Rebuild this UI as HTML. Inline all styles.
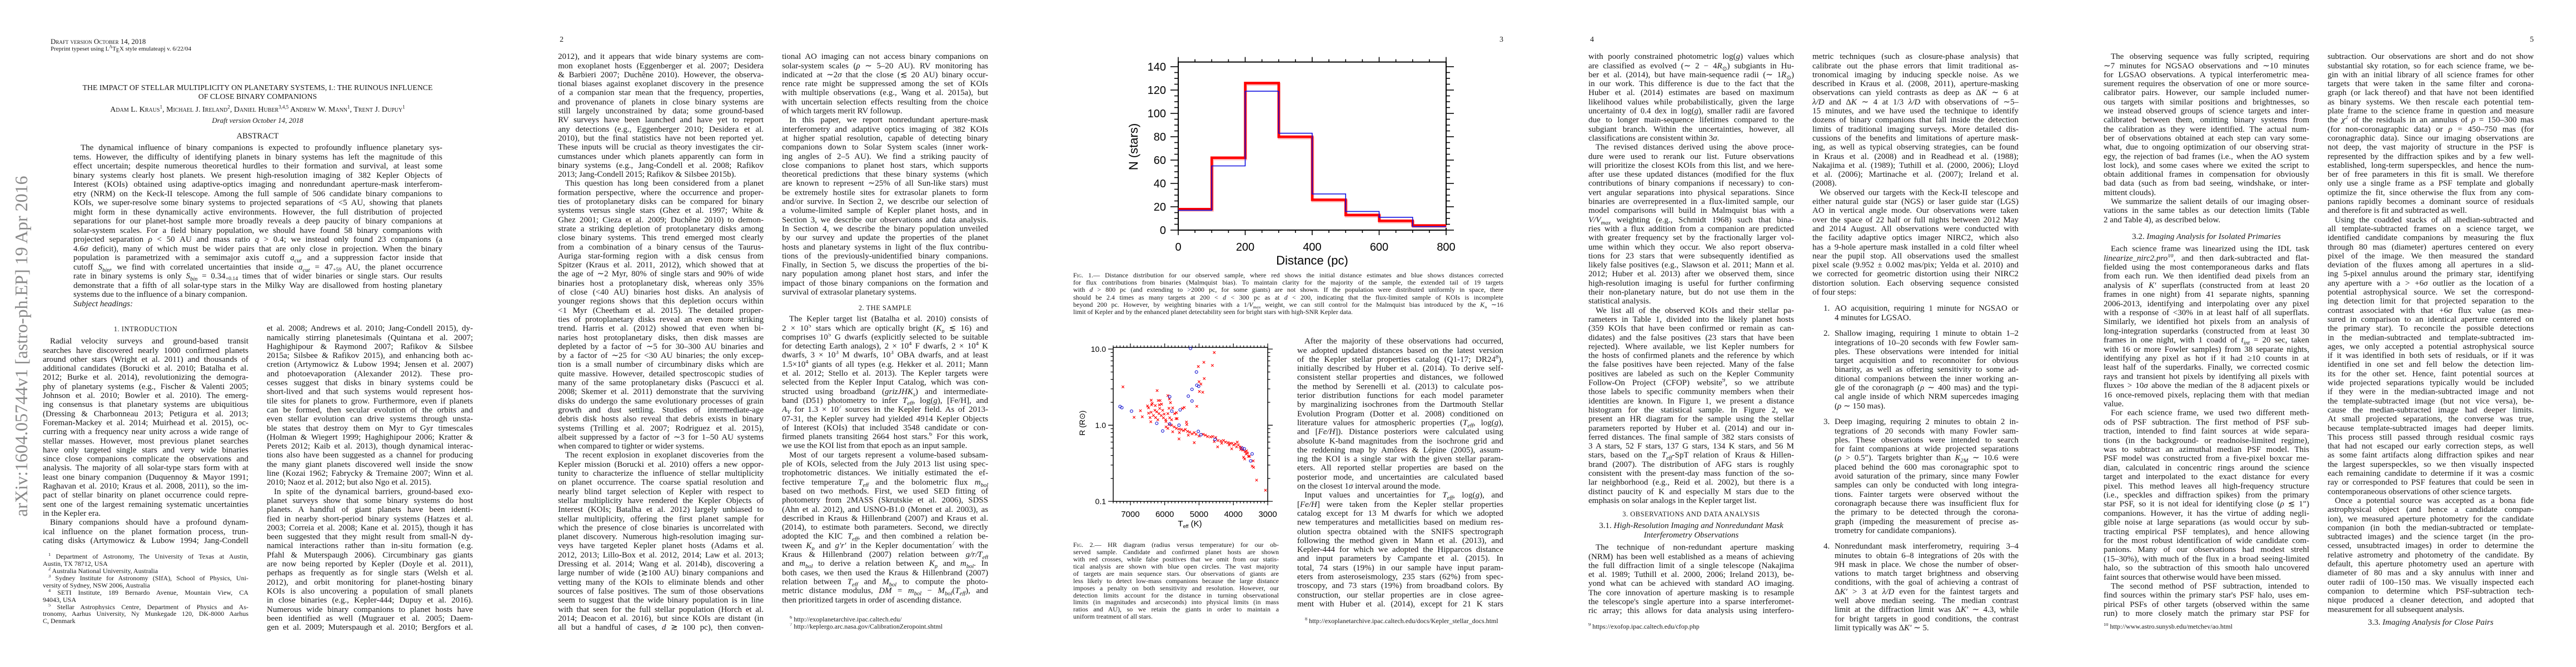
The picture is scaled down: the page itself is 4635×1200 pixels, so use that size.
<!DOCTYPE html>
<html><head><meta charset="utf-8">
<style>
html,body{margin:0;padding:0;background:#fff;}
body{width:4635px;height:1200px;position:relative;overflow:hidden;font-family:"Liberation Serif",serif;color:#161616;}
.page{position:absolute;top:0;width:927px;height:1200px;background:#fff;overflow:hidden;}
.ln{position:absolute;white-space:normal;overflow:hidden;text-align:justify;}
.abs{position:absolute;white-space:nowrap;}
.sc{font-variant:small-caps;}
sup,sub{line-height:0;font-size:0.7em;}
.ss{display:inline-flex;flex-direction:column;vertical-align:-0.3em;font-size:0.65em;line-height:0.95em;}
.ss sup,.ss sub{font-size:1em;vertical-align:baseline;line-height:0.95em;}
svg text{font-family:"Liberation Sans",sans-serif;}
</style></head><body>

<div class="page" id="p0" style="left:0px">
  <div class="abs" style="left:-332px;top:603px;width:740px;text-align:center;font-size:32px;color:#8a8a8a;transform:rotate(-90deg);transform-origin:center;line-height:40px;">arXiv:1604.05744v1  [astro-ph.EP]  19 Apr 2016</div>
  <div class="abs sc" style="left:91px;top:67px;font-size:13px;">Draft version October 14, 2018</div>
  <div class="abs" style="left:91px;top:82px;font-size:11px;">Preprint typeset using L<sup style="font-size:8px">A</sup>T<sub style="font-size:10px">E</sub>X style emulateapj v. 6/22/04</div>
  <div class="abs" style="left:60px;width:807px;top:150px;text-align:center;font-size:13.8px;line-height:16px;">THE IMPACT OF STELLAR MULTIPLICITY ON PLANETARY SYSTEMS, I.: THE RUINOUS INFLUENCE<br>OF CLOSE BINARY COMPANIONS</div>
  <div class="abs sc" style="left:60px;width:807px;top:190px;text-align:center;font-size:14px;">Adam L. Kraus<sup style="font-size:9px">1</sup>, Michael J. Ireland<sup style="font-size:9px">2</sup>, Daniel Huber<sup style="font-size:9px">3,4,5</sup> Andrew W. Mann<sup style="font-size:9px">1</sup>, Trent J. Dupuy<sup style="font-size:9px">1</sup></div>
  <div class="abs" style="left:60px;width:807px;top:209px;text-align:center;font-size:13px;font-style:italic;">Draft version October 14, 2018</div>
  <div class="abs" style="left:60px;width:807px;top:237px;text-align:center;font-size:14.5px;">ABSTRACT</div>
  <div class="abs" style="left:132px;top:539px;font-size:15px;font-style:italic;">Subject headings:</div>
  <div class="abs" style="left:77px;width:370px;top:585px;text-align:center;font-size:12.5px;letter-spacing:0.5px;">1. INTRODUCTION</div>
</div>

<div class="page" id="p1" style="left:927px">
  <div class="abs" style="left:80px;top:64px;font-size:14px;">2</div>
  <div class="abs" style="left:480px;width:371px;top:547px;text-align:center;font-size:12.5px;letter-spacing:0.5px;">2. THE SAMPLE</div>
</div>

<div class="page" id="p2" style="left:1854px">
  <div class="abs" style="left:844px;top:64px;font-size:14px;">3</div>
  <svg id="fig1" width="927" height="480" style="position:absolute;left:0;top:0;"></svg>
  <svg id="fig2" width="927" height="980" style="position:absolute;left:0;top:0;"></svg>
</div>

<div class="page" id="p3" style="left:2781px">
  <div class="abs" style="left:80px;top:64px;font-size:14px;">4</div>
  <div class="abs" style="left:77px;width:370px;top:918px;text-align:center;font-size:12.5px;letter-spacing:0.5px;">3. OBSERVATIONS AND DATA ANALYSIS</div>
  <div class="abs" style="left:77px;width:370px;top:938px;text-align:center;font-size:15px;line-height:17px;"><span>3.1. </span><i>High-Resolution Imaging and Nonredundant Mask<br>Interferometry Observations</i></div>
</div>

<div class="page" id="p4" style="left:3708px">
  <div class="abs" style="left:844px;top:64px;font-size:14px;">5</div>
  <div class="abs" style="left:77px;width:370px;top:418px;text-align:center;font-size:15px;">3.2. <i>Imaging Analysis for Isolated Primaries</i></div>
  <div class="abs" style="left:480px;width:371px;top:1112px;text-align:center;font-size:15px;">3.3. <i>Imaging Analysis for Close Pairs</i></div>
</div>

<script>
function addLines(pageId, x, cy, w, lh, fs, indent, text, name) {
  const page = document.getElementById(pageId);
  const lines = text.replace(/^\n+|\n+$/g, '').split('\n');
  let indentNext = false;
  lines.forEach(function (raw, i) {
    let s = raw;
    let ind = indentNext;
    if (s.charAt(0) === '^') { ind = true; s = s.slice(1); }
    let end = false;
    if (s.charAt(s.length - 1) === '|') { end = true; s = s.slice(0, -1); }
    indentNext = end;
    const d = document.createElement('div');
    d.className = 'ln';
    
    
    const off = ind ? indent : 0;
    d.style.left = (x + off) + 'px';
    d.style.width = (w - off) + 'px';
    d.style.top = (cy + i * lh - lh * 0.6) + 'px';
    d.style.height = lh + 'px';
    d.style.lineHeight = lh + 'px';
    d.style.fontSize = fs + 'px';
    d.style.textAlignLast = end ? 'left' : 'justify';
    d.innerHTML = s;
    page.appendChild(d);
  });
}

addLines('p0', 132, 268, 664, 16.5, 15, 13, `
^The dynamical influence of binary companions is expected to profoundly influence planetary sys-
tems. However, the difficulty of identifying planets in binary systems has left the magnitude of this
effect uncertain; despite numerous theoretical hurdles to their formation and survival, at least some
binary systems clearly host planets. We present high-resolution imaging of 382 Kepler Objects of
Interest (KOIs) obtained using adaptive-optics imaging and nonredundant aperture-mask interferom-
etry (NRM) on the Keck-II telescope. Among the full sample of 506 candidate binary companions to
KOIs, we super-resolve some binary systems to projected separations of &lt;5 AU, showing that planets
might form in these dynamically active environments. However, the full distribution of projected
separations for our planet-host sample more broadly reveals a deep paucity of binary companions at
solar-system scales. For a field binary population, we should have found 58 binary companions with
projected separation <i>ρ</i> &lt; 50 AU and mass ratio <i>q</i> &gt; 0.4; we instead only found 23 companions (a
4.6<i>σ</i> deficit), many of which must be wider pairs that are only close in projection. When the binary
population is parametrized with a semimajor axis cutoff <i>a<sub>cut</sub></i> and a suppression factor inside that
cutoff <i>S<sub>bin</sub></i>, we find with correlated uncertainties that inside <i>a<sub>cut</sub></i> = 47<span class="ss"><sup>+59</sup><sub>−23</sub></span> AU, the planet occurrence
rate in binary systems is only <i>S<sub>bin</sub></i> = 0.34<span class="ss"><sup>+0.14</sup><sub>−0.15</sub></span> times that of wider binaries or single stars. Our results
demonstrate that a fifth of all solar-type stars in the Milky Way are disallowed from hosting planetary
systems due to the influence of a binary companion.|
`, 'abstract-line');

addLines('p0', 77, 616, 370, 16.3, 15, 13, `
^Radial velocity surveys and ground-based transit
searches have discovered nearly 1000 confirmed planets
around other stars (Wright et al. 2011) and thousands of
additional candidates (Borucki et al. 2010; Batalha et al.
2012; Burke et al. 2014), revolutionizing the demogra-
phy of planetary systems (e.g., Fischer &amp; Valenti 2005;
Johnson et al. 2010; Bowler et al. 2010). The emerg-
ing consensus is that planetary systems are ubiquitious
(Dressing &amp; Charbonneau 2013; Petigura et al. 2013;
Foreman-Mackey et al. 2014; Muirhead et al. 2015), oc-
curring with a frequency near unity across a wide range of
stellar masses. However, most previous planet searches
have only targeted single stars and very wide binaries
since close companions complicate the observations and
analysis. The majority of all solar-type stars form with at
least one binary companion (Duquennoy &amp; Mayor 1991;
Raghavan et al. 2010; Kraus et al. 2008, 2011), so the im-
pact of stellar binarity on planet occurrence could repre-
sent one of the largest remaining systematic uncertainties
in the Kepler era.|
Binary companions should have a profound dynam-
ical influence on the planet formation process, trun-
cating disks (Artymowicz &amp; Lubow 1994; Jang-Condell
`, 'intro-line');

addLines('p0', 77, 1003, 370, 12.9, 12, 10, `
^<sup>1</sup> Department of Astronomy, The University of Texas at Austin,
Austin, TX 78712, USA|
<sup>2</sup> Australia National University, Australia|
<sup>3</sup> Sydney Institute for Astronomy (SIfA), School of Physics, Uni-
versity of Sydney, NSW 2006, Australia|
<sup>4</sup> SETI Institute, 189 Bernardo Avenue, Mountain View, CA
94043, USA|
<sup>5</sup> Stellar Astrophysics Centre, Department of Physics and As-
tronomy, Aarhus University, Ny Munkegade 120, DK-8000 Aarhus
C, Denmark|
`, 'affiliation-footnote');

addLines('p0', 480, 593, 371, 16.3, 15, 13, `
et al. 2008; Andrews et al. 2010; Jang-Condell 2015), dy-
namically stirring planetesimals (Quintana et al. 2007;
Haghighipour &amp; Raymond 2007; Rafikov &amp; Silsbee
2015a; Silsbee &amp; Rafikov 2015), and enhancing both ac-
cretion (Artymowicz &amp; Lubow 1994; Jensen et al. 2007)
and photoevaporation (Alexander 2012). These pro-
cesses suggest that disks in binary systems could be
short-lived and that such systems would represent hos-
tile sites for planets to grow. Furthermore, even if planets
can be formed, then secular evolution of the orbits and
even stellar evolution can drive systems through unsta-
ble states that destroy them on Myr to Gyr timescales
(Holman &amp; Wiegert 1999; Haghighipour 2006; Kratter &amp;
Perets 2012; Kaib et al. 2013), though dynamical interac-
tions also have been suggested as a channel for producing
the many giant planets discovered well inside the snow
line (Kozai 1962; Fabrycky &amp; Tremaine 2007; Winn et al.
2010; Naoz et al. 2012; but also Ngo et al. 2015).|
In spite of the dynamical barriers, ground-based exo-
planet surveys show that some binary systems do host
planets. A handful of giant planets have been identi-
fied in nearby short-period binary systems (Hatzes et al.
2003; Correia et al. 2008; Kane et al. 2015), though it has
been suggested that they might result from small-N dy-
namical interactions rather than in-situ formation (e.g.
Pfahl &amp; Muterspaugh 2006). Circumbinary gas giants
are now being reported by Kepler (Doyle et al. 2011),
perhaps as frequently as for single stars (Welsh et al.
2012), and orbit monitoring for planet-hosting binary
KOIs is also uncovering a population of small planets
in close binaries (e.g., Kepler-444; Dupuy et al. 2016).
Numerous wide binary companions to planet hosts have
been identified as well (Mugrauer et al. 2005; Daem-
gen et al. 2009; Muterspaugh et al. 2010; Bergfors et al.
`, 'intro-line');

addLines('p1', 77, 104, 370, 16.3, 15, 13, `
2012), and it appears that wide binary systems are com-
mon exoplanet hosts (Eggenberger et al. 2007; Desidera
&amp; Barbieri 2007; Duchêne 2010). However, the observa-
tional biases against exoplanet discovery in the presence
of a companion star mean that the frequency, properties,
and provenance of planets in close binary systems are
still largely unconstrained by data; some ground-based
RV surveys have been launched and have yet to report
any detections (e.g., Eggenberger 2010; Desidera et al.
2010), but the final statistics have not been reported yet.
These inputs will be crucial as theory investigates the cir-
cumstances under which planets apparently can form in
binary systems (e.g., Jang-Condell et al. 2008; Rafikov
2013; Jang-Condell 2015; Rafikov &amp; Silsbee 2015b).|
This question has long been considered from a planet
formation perspective, where the occurrence and proper-
ties of protoplanetary disks can be compared for binary
systems versus single stars (Ghez et al. 1997; White &amp;
Ghez 2001; Cieza et al. 2009; Duchêne 2010) to demon-
strate a striking depletion of protoplanetary disks among
close binary systems. This trend emerged most clearly
from a combination of a binary census of the Taurus-
Auriga star-forming region with a disk census from
Spitzer (Kraus et al. 2011, 2012), which showed that at
the age of ∼2 Myr, 80% of single stars and 90% of wide
binaries host a protoplanetary disk, whereas only 35%
of close (&lt;40 AU) binaries host disks. An analysis of
younger regions shows that this depletion occurs within
&lt;1 Myr (Cheetham et al. 2015). The detailed proper-
ties of protoplanetary disks reveal an even more striking
trend. Harris et al. (2012) showed that even when bi-
naries host protoplanetary disks, then disk masses are
depleted by a factor of ∼5 for 30–300 AU binaries and
by a factor of ∼25 for &lt;30 AU binaries; the only excep-
tion is a small number of circumbinary disks which are
quite massive. However, detailed spectroscopic studies of
many of the same protoplanetary disks (Pascucci et al.
2008; Skemer et al. 2011) demonstrate that the surviving
disks do undergo the same evolutionary processes of grain
growth and dust settling. Studies of intermediate-age
debris disk hosts also reveal that debris exists in binary
systems (Trilling et al. 2007; Rodriguez et al. 2015),
albeit suppressed by a factor of ∼3 for 1–50 AU systems
when compared to tighter or wider systems.|
The recent explosion in exoplanet discoveries from the
Kepler mission (Borucki et al. 2010) offers a new oppor-
tunity to characterize the influence of stellar multiplicity
on planet occurrence. The coarse spatial resolution and
nearly blind target selection of Kepler with respect to
stellar multiplicity have rendered the Kepler Objects of
Interest (KOIs; Batalha et al. 2012) largely unbiased to
stellar multiplicity, offering the first planet sample for
which the presence of close binaries is uncorrelated with
planet discovery. Numerous high-resolution imaging sur-
veys have targeted Kepler planet hosts (Adams et al.
2012, 2013; Lillo-Box et al. 2012, 2014; Law et al. 2013;
Dressing et al. 2014; Wang et al. 2014b), discovering a
large number of wide (≳100 AU) binary companions and
vetting many of the KOIs to eliminate blends and other
sources of false positives. The sum of those observations
seem to suggest that the wide binary population is in line
with that seen for the full stellar population (Horch et al.
2014; Deacon et al. 2016), but since KOIs are distant (in
all but a handful of cases, <i>d</i> ≳ 100 pc), then conven-
`, 'body-line');

addLines('p1', 480, 104, 371, 16.3, 15, 13, `
tional AO imaging can not access binary companions on
solar-system scales (<i>ρ</i> ∼ 5–20 AU). RV monitoring has
indicated at ∼2<i>σ</i> that the close (≲ 20 AU) binary occur-
rence rate might be suppressed among the set of KOIs
with multiple observations (e.g., Wang et al. 2015a), but
with uncertain selection effects resulting from the choice
of which targets merit RV followup.|
In this paper, we report nonredundant aperture-mask
interferometry and adaptive optics imaging of 382 KOIs
at higher spatial resolution, capable of detecting binary
companions down to Solar System scales (inner work-
ing angles of 2–5 AU). We find a striking paucity of
close companions to planet host stars, which supports
theoretical predictions that these binary systems (which
are known to represent ∼25% of all Sun-like stars) must
be extremely hostile sites for extrasolar planets to form
and/or survive. In Section 2, we describe our selection of
a volume-limited sample of Kepler planet hosts, and in
Section 3, we describe our observations and data analysis.
In Section 4, we describe the binary population unveiled
by our survey and update the properties of the planet
hosts and planetary systems in light of the flux contribu-
tions of the previously-unidentified binary companions.
Finally, in Section 5, we discuss the properties of the bi-
nary population among planet host stars, and infer the
impact of those binary companions on the formation and
survival of extrasolar planetary systems.|
`, 'body-line');

addLines('p1', 480, 576, 371, 16.3, 15, 13, `
^The Kepler target list (Batalha et al. 2010) consists of
2 × 10<sup>5</sup> stars which are optically bright (<i>K<sub>p</sub></i> ≲ 16) and
comprises 10<sup>5</sup> G dwarfs (explicitly selected to be suitable
for detecting Earth analogs), 2 × 10<sup>4</sup> F dwarfs, 2 × 10<sup>4</sup> K
dwarfs, 3 × 10<sup>3</sup> M dwarfs, 10<sup>3</sup> OBA dwarfs, and at least
1.5×10<sup>4</sup> giants of all types (e.g. Hekker et al. 2011; Mann
et al. 2012; Stello et al. 2013). The Kepler targets were
selected from the Kepler Input Catalog, which was con-
structed using broadband (<i>grizJHK<sub>s</sub></i>) and intermediate-
band (D51) photometry to infer <i>T<sub>eff</sub></i>, log(<i>g</i>), [Fe/H], and
<i>A<sub>V</sub></i> for 1.3 × 10<sup>7</sup> sources in the Kepler field. As of 2013-
07-31, the Kepler survey had yielded 4914 Kepler Objects
of Interest (KOIs) that included 3548 candidate or con-
firmed planets transiting 2664 host stars.<sup>6</sup> For this work,
we use the KOI list from that epoch as an input sample.|
Most of our targets represent a volume-based subsam-
ple of KOIs, selected from the July 2013 list using spec-
trophotometric distances. We initially estimated the ef-
fective temperature <i>T<sub>eff</sub></i> and the bolometric flux <i>m<sub>bol</sub></i>
based on two methods. First, we used SED fitting of
photometry from 2MASS (Skrutskie et al. 2006), SDSS
(Ahn et al. 2012), and USNO-B1.0 (Monet et al. 2003), as
described in Kraus &amp; Hillenbrand (2007) and Kraus et al.
(2014), to estimate both parameters. Second, we directly
adopted the KIC <i>T<sub>eff</sub></i>, and then combined a relation be-
tween <i>K<sub>p</sub></i> and <i>g′r′</i> in the Kepler documentation<sup>7</sup> with the
Kraus &amp; Hillenbrand (2007) relation between <i>g/r/T<sub>eff</sub></i>
and <i>m<sub>bol</sub></i> to derive a relation between <i>K<sub>p</sub></i> and <i>m<sub>bol</sub></i>. In
both cases, we then used the Kraus &amp; Hillenbrand (2007)
relation between <i>T<sub>eff</sub></i> and <i>M<sub>bol</sub></i> to compute the photo-
metric distance modulus, <i>DM</i> = <i>m<sub>bol</sub></i> − <i>M<sub>bol</sub></i>(<i>T<sub>eff</sub></i>), and
then prioritized targets in order of ascending distance.|
`, 'body-line');

addLines('p1', 494, 1116, 400, 13, 12, 0, `
<sup>6</sup> http://exoplanetarchive.ipac.caltech.edu/|
<sup>7</sup> http://keplergo.arc.nasa.gov/CalibrationZeropoint.shtml|
`, 'url-footnote');

addLines('p2', 77, 497, 774, 13.2, 12, 0, `
<span class="sc">Fig.</span> 1.— Distance distribution for our observed sample, where red shows the initial distance estimates and blue shows distances corrected
for flux contributions from binaries (Malmquist bias). To maintain clarity for the majority of the sample, the extended tail of 19 targets
with <i>d</i> &gt; 800 pc (and extending to &gt;2000 pc, for some giants) are not shown. If the population were distributed uniformly in space, there
should be 2.4 times as many targets at 200 &lt; <i>d</i> &lt; 300 pc as at <i>d</i> &lt; 200, indicating that the flux-limited sample of KOIs is incomplete
beyond 200 pc. However, by weighting binaries with a 1/<i>V<sub>max</sub></i> weight, we can still control for the Malmquist bias introduced by the <i>K<sub>p</sub></i> ∼16
limit of Kepler and by the enhanced planet detectability seen for bright stars with high-SNR Kepler data.|
`, 'figure-1-caption');

addLines('p2', 77, 982, 370, 12.9, 12, 0, `
<span class="sc">Fig.</span> 2.— HR diagram (radius versus temperature) for our ob-
served sample. Candidate and confirmed planet hosts are shown
with red crosses, while false positives that we omit from our statis-
tical analysis are shown with blue open circles. The vast majority
of targets are main sequence stars. Our observations of giants are
less likely to detect low-mass companions because the large distance
imposes a penalty on both sensitivity and resolution. However, our
detection limits account for the distance in turning observational
limits (in magnitudes and arcseconds) into physical limits (in mass
ratios and AU), so we retain the giants in order to maintain a
uniform treatment of all stars.|
`, 'figure-2-caption');

addLines('p2', 480, 616, 371, 16.3, 15, 13, `
^After the majority of these observations had occurred,
we adopted updated distances based on the latest version
of the Kepler stellar properties catalog (Q1-17; DR24<sup>8</sup>),
initially described by Huber et al. (2014). To derive self-
consistent stellar properties and distances, we followed
the method by Serenelli et al. (2013) to calculate pos-
terior distribution functions for each model parameter
by marginalizing isochrones from the Dartmouth Stellar
Evolution Program (Dotter et al. 2008) conditioned on
literature values for atmospheric properties (<i>T<sub>eff</sub></i>, log(<i>g</i>),
and [<i>Fe/H</i>]). Distance posteriors were calculated using
absolute K-band magnitudes from the isochrone grid and
the reddening map by Amôres &amp; Lépine (2005), assum-
ing the KOI is a single star with the given stellar param-
eters. All reported stellar properties are based on the
posterior mode, and uncertainties are calculated based
on the closest 1<i>σ</i> interval around the mode.|
Input values and uncertainties for <i>T<sub>eff</sub></i>, log(<i>g</i>), and
[<i>Fe/H</i>] were taken from the Kepler stellar properties
catalog except for 13 M dwarfs for which we adopted
new temperatures and metallicities based on medium res-
olution spectra obtained with the SNIFS spectrograph
following the method given in Mann et al. (2013), and
Kepler-444 for which we adopted the Hipparcos distance
and input parameters by Campante et al. (2015). In
total, 74 stars (19%) in our sample have input param-
eters from asteroseismology, 235 stars (62%) from spec-
troscopy, and 73 stars (19%) from broadband colors. By
construction, our stellar properties are in close agree-
ment with Huber et al. (2014), except for 21 K stars
`, 'body-line');

addLines('p2', 494, 1119, 420, 13, 12, 0, `
<sup>8</sup> http://exoplanetarchive.ipac.caltech.edu/docs/Kepler_stellar_docs.html|
`, 'url-footnote');

addLines('p3', 77, 104, 370, 16.3, 15, 13, `
with poorly constrained photometric log(<i>g</i>) values which
are classified as evolved (∼ 2 − 4<i>R</i><sub>⊙</sub>) subgiants in Hu-
ber et al. (2014), but have main-sequence radii (∼ 1<i>R</i><sub>⊙</sub>)
in our work. This difference is due to the fact that the
Huber et al. (2014) estimates are based on maximum
likelihood values while probabilistically, given the large
uncertainty of 0.4 dex in log(<i>g</i>), smaller radii are favored
due to longer main-sequence lifetimes compared to the
subgiant branch. Within the uncertainties, however, all
classifications are consistent within 3<i>σ</i>.|
The revised distances derived using the above proce-
dure were used to rerank our list. Future observations
will prioritize the closest KOIs from this list, and we here-
after use these updated distances (modified for the flux
contributions of binary companions if necessary) to con-
vert angular separations into physical separations. Since
binaries are overrepresented in a flux-limited sample, our
model comparisons will build in Malmquist bias with a
<i>V/V<sub>max</sub></i> weighting (e.g., Schmidt 1968) such that bina-
ries with a flux addition from a companion are predicted
with greater frequency set by the fractionally larger vol-
ume within which they occur. We also report observa-
tions for 23 stars that were subsequently identified as
likely false positives (e.g., Slawson et al. 2011; Mann et al.
2012; Huber et al. 2013) after we observed them, since
high-resolution imaging is useful for further confirming
their non-planetary nature, but do not use them in the
statistical analysis.|
We list all of the observed KOIs and their stellar pa-
rameters in Table 1, divided into the likely planet hosts
(359 KOIs that have been confirmed or remain as can-
didates) and the false positives (23 stars that have been
rejected). Where available, we list Kepler numbers for
the hosts of confirmed planets and the reference by which
the false positives have been rejected. Many of the false
positives are labeled as such on the Kepler Community
Follow-On Project (CFOP) website<sup>9</sup>, so we attribute
those labels to specific community members when their
identities are known. In Figure 1, we present a distance
histogram for the statistical sample. In Figure 2, we
present an HR diagram for the sample using the stellar
parameters reported by Huber et al. (2014) and our in-
ferred distances. The final sample of 382 stars consists of
3 A stars, 52 F stars, 137 G stars, 134 K stars, and 56 M
stars, based on the <i>T<sub>eff</sub></i>-SpT relation of Kraus &amp; Hillen-
brand (2007). The distribution of AFG stars is roughly
consistent with the present-day mass function of the so-
lar neighborhood (e.g., Reid et al. 2002), but there is a
distinct paucity of K and especially M stars due to the
emphasis on solar analogs in the Kepler target list.|
`, 'body-line');

addLines('p3', 77, 987, 370, 16.3, 15, 13, `
^The technique of non-redundant aperture masking
(NRM) has been well established as a means of achieving
the full diffraction limit of a single telescope (Nakajima
et al. 1989; Tuthill et al. 2000, 2006; Ireland 2013), be-
yond what can be achieved with standard AO imaging.
The core innovation of aperture masking is to resample
the telescope's single aperture into a sparse interferomet-
ric array; this allows for data analysis using interfero-
`, 'body-line');

addLines('p3', 77, 1129, 400, 13, 12, 0, `
<sup>9</sup> https://exofop.ipac.caltech.edu/cfop.php|
`, 'url-footnote');

addLines('p3', 480, 104, 371, 16.3, 15, 13, `
metric techniques (such as closure-phase analysis) that
calibrate out the phase errors that limit traditional as-
tronomical imaging by inducing speckle noise. As we
described in Kraus et al. (2008, 2011), aperture-masking
observations can yield contrasts as deep as Δ<i>K</i> ∼ 6 at
<i>λ/D</i> and Δ<i>K</i> ∼ 4 at 1/3 <i>λ/D</i> with observations of ∼5–
15 minutes, and we have used the technique to identify
dozens of binary companions that fall inside the detection
limits of traditional imaging surveys. More detailed dis-
cussions of the benefits and limitations of aperture mask-
ing, as well as typical observing strategies, can be found
in Kraus et al. (2008) and in Readhead et al. (1988);
Nakajima et al. (1989); Tuthill et al. (2000, 2006); Lloyd
et al. (2006); Martinache et al. (2007); Ireland et al.
(2008).|
We observed our targets with the Keck-II telescope and
either natural guide star (NGS) or laser guide star (LGS)
AO in vertical angle mode. Our observations were taken
over the space of 22 half or full nights between 2012 May
and 2014 August. All observations were conducted with
the facility adaptive optics imager NIRC2, which also
has a 9-hole aperture mask installed in a cold filter wheel
near the pupil stop. All observations used the smallest
pixel scale (9.952 ± 0.002 mas/pix; Yelda et al. 2010) and
we corrected for geometric distortion using their NIRC2
distortion solution. Each observing sequence consisted
of four steps:|
`, 'body-line');

const listItems = [
  {n: '1.', y: 557, t: `
AO acquisition, requiring 1 minute for NGSAO or
4 minutes for LGSAO.|`},
  {n: '2.', y: 602, t: `
Shallow imaging, requiring 1 minute to obtain 1–2
integrations of 10–20 seconds with few Fowler sam-
ples. These observations were intended for initial
target acquisition and to reconnoiter for obvious
binarity, as well as offering sensitivity to some ad-
ditional companions between the inner working an-
gle of the coronagraph (<i>ρ</i> ∼ 400 mas) and the typi-
cal angle inside of which NRM supercedes imaging
(<i>ρ</i> ∼ 150 mas).|`},
  {n: '3.', y: 761, t: `
Deep imaging, requiring 2 minutes to obtain 2 in-
tegrations of 20 seconds with many Fowler sam-
ples. These observations were intended to search
for faint companions at wide projected separations
(<i>ρ</i> &gt; 0.5″). Targets brighter than <i>K<sub>2M</sub></i> ∼ 10.6 were
placed behind the 600 mas coronagraphic spot to
avoid saturation of the primary, since many Fowler
samples can only be conducted with long integra-
tions. Fainter targets were observed without the
coronagraph because there was insufficient flux for
the primary to be detected through the corona-
graph (impeding the measurement of precise as-
trometry for candidate companions).|`},
  {n: '4.', y: 985, t: `
Nonredundant mask interferometry, requiring 3–4
minutes to obtain 6–8 integrations of 20s with the
9H mask in place. We chose the number of obser-
vations to match target brightness and observing
conditions, with the goal of achieving a contrast of
Δ<i>K′</i> &gt; 3 at <i>λ/D</i> even for the faintest targets and
well above median seeing. The median contrast
limit at the diffraction limit was Δ<i>K′</i> ∼ 4.3, while
for bright targets in good conditions, the contrast
limit typically was Δ<i>K′</i> ∼ 5.|`}
];
listItems.forEach(function (it) {
  const num = document.createElement('div');
  num.className = 'abs';
  
  
  num.style.left = '500px';
  num.style.top = (it.y - 9.8) + 'px';
  num.style.fontSize = '15px';
  num.style.lineHeight = '16.3px';
  num.textContent = it.n;
  document.getElementById('p3').appendChild(num);
  addLines('p3', 520, it.y, 331, 16.3, 15, 0, it.t, 'list-item-line');
});

addLines('p4', 77, 104, 370, 16.3, 15, 13, `
^The observing sequence was fully scripted, requiring
∼7 minutes for NGSAO observations and ∼10 minutes
for LGSAO observations. A typical interferometric mea-
surement requires the observation of one or more source-
calibrator pairs. However, our sample included numer-
ous targets with similar positions and brightnesses, so
we instead observed groups of science targets and inter-
calibrated between them, omitting binary systems from
the calibration as they were identified. The actual num-
ber of observations obtained at each step can vary some-
what, due to ongoing optimization of our observing strat-
egy, the rejection of bad frames (i.e., when the AO system
lost lock), and some cases where we exited the script to
obtain additional frames in compensation for obviously
bad data (such as from bad seeing, windshake, or inter-
mittent clouds).|
We summarize the salient details of our imaging obser-
vations in the same tables as our detection limits (Table
2 and Table 4), as described below.|
`, 'body-line');

addLines('p4', 77, 450, 370, 16.4, 15, 13, `
^Each science frame was linearized using the IDL task
<i>linearize_nirc2.pro</i><sup>10</sup>, and then dark-subtracted and flat-
fielded using the most contemporaneous darks and flats
from each run. We then identified dead pixels from an
analysis of <i>K′</i> superflats (constructed from at least 20
frames in one night) from 41 separate nights, spanning
2006-2013, identifying and interpolating over any pixel
with a response of &lt;30% in at least half of all superflats.
Similarly, we identified hot pixels from an analysis of
long-integration superdarks (constructed from at least 30
frames in one night, with 1 coadd of <i>t<sub>int</sub></i> = 20 sec, taken
with 16 or more Fowler samples) from 38 separate nights,
identifying any pixel as hot if it had ≥10 counts in at
least half of the superdarks. Finally, we corrected cosmic
rays and transient hot pixels by identifying all pixels with
fluxes &gt; 10<i>σ</i> above the median of the 8 adjacent pixels or
16 once-removed pixels, replacing them with that median
value.|
For each science frame, we used two different meth-
ods of PSF subtraction. The first method of PSF sub-
traction, intended to find faint sources at wide separa-
tions (in the background- or readnoise-limited regime),
was to subtract an azimuthal median PSF model. This
PSF model was constructed from a five-pixel boxcar me-
dian, calculated in concentric rings around the science
target and interpolated to the exact distance for every
pixel. This method leaves all high-frequency structure
(i.e., speckles and diffraction spikes) from the primary
star PSF, so it is not ideal for identifying close (<i>ρ</i> ≲ 1″)
companions. However, it has the virtue of adding negli-
gible noise at large separations (as would occur by sub-
tracting empirical PSF templates), and hence allowing
for the most robust identification of wide candidate com-
panions. Many of our observations had modest strehl
(15–30%), with much of the flux in a broad seeing-limited
halo, so the subtraction of this smooth halo uncovered
faint sources that otherwise would have been missed.|
The second method of PSF subtraction, intended to
find sources within the primary star's PSF halo, uses em-
pirical PSFs of other targets (observed within the same
run) to more closely match the primary star PSF for
`, 'body-line');

addLines('p4', 77, 1129, 400, 13, 12, 0, `
<sup>10</sup> http://www.astro.sunysb.edu/metchev/ao.html|
`, 'url-footnote');

addLines('p4', 480, 104, 371, 16.3, 15, 13, `
subtraction. Our observations are short and do not show
substantial sky rotation, so for each science frame, we be-
gin with an initial library of all science frames for other
targets that were taken in the same filter and corona-
graph (or lack thereof) and that have not been identified
as binary systems. We then rescale each potential tem-
plate frame to the science frame in question and measure
the <i>χ</i><sup>2</sup> of the residuals in an annulus of <i>ρ</i> = 150–300 mas
(for non-coronagraphic data) or <i>ρ</i> = 450–750 mas (for
coronagraphic data). Since our imaging observations are
not deep, the vast majority of structure in the PSF is
represented by the diffraction spikes and by a few well-
established, long-term superspeckles, and hence the num-
ber of free parameters in this fit is small. We therefore
only use a single frame as a PSF template and globally
optimize the fit, since otherwise the flux from any com-
panions rapidly becomes a dominant source of residuals
and therefore is fit and subtracted as well.|
Using the coadded stacks of all median-subtracted and
all template-subtracted frames on a science target, we
identified candidate companions by measuring the flux
through 80 mas (diameter) apertures centered on every
pixel of the image. We then measured the standard
deviation of the fluxes among all apertures in a slid-
ing 5-pixel annulus around the primary star, identifying
any aperture with a &gt; +6<i>σ</i> outlier as the location of a
potential astrophysical source. We set the correspond-
ing detection limit for that projected separation to the
contrast associated with that +6<i>σ</i> flux value (as mea-
sured in comparison to an identical aperture centered on
the primary star). To reconcile the possible detections
in the median-subtracted and template-subtracted im-
ages, we only accepted a potential astrophysical source
if it was identified in both sets of residuals, or if it was
identified in one set and fell below the detection lim-
its for the other set. Hence, faint potential sources at
wide projected separations typically would be included
if they were in the median-subtracted image and not
the template-subtracted image (but not vice versa), be-
cause the median-subtracted image had deeper limits.
At small projected separations, the converse was true,
because template-subtracted images had deeper limits.
This process still passed through residual cosmic rays
that had not escaped our early correction steps, as well
as some faint artifacts along diffraction spikes and near
the largest superspeckles, so we then visually inspected
each remaining candidate to determine if it was a cosmic
ray or corresponded to PSF features that could be seen in
contemporaneous observations of other science targets.|
Once a potential source was accepted as a bona fide
astrophysical object (and hence a candidate compan-
ion), we measured aperture photometry for the candidate
companion (in both the median-subtracted or template-
subtracted images) and the science target (in the pro-
cessed, unsubtracted images) in order to determine the
relative astrometry and photometry of the candidate. By
default, this aperture photometry used an aperture with
diameter of 80 mas and a sky annulus with inner and
outer radii of 100–150 mas. We visually inspected each
companion to determine which PSF-subtraction tech-
nique produced a cleaner detection, and adopted that
measurement for all subsequent analysis.|
`, 'body-line');
</script>

<script>
const histBinStarts = [0, 100, 200, 300, 400, 500, 600, 700];
const histBinWidth = 100;
const histInitial = [18, 62, 126, 80, 26, 13, 8, 4];
const histCorrected = [17, 55, 119, 83, 31, 16, 11, 3];
const histXTicks = [0, 200, 400, 600, 800];
const histYTicks = [0, 20, 40, 60, 80, 100, 120, 140];

(function () {
  const NS = 'http://www.w3.org/2000/svg';
  const svg = document.getElementById('fig1');
  const X0 = 266, X1 = 748, Y0 = 414, YT = 120;
  const xMax = 800, yMax = 144;
  function xs(d) { return X0 + (d / xMax) * (X1 - X0); }
  function ys(n) { return Y0 - n * (Y0 - YT) / 140; }
  function el(tag, attrs) {
    const e = document.createElementNS(NS, tag);
    for (const k in attrs) e.setAttribute(k, attrs[k]);
    svg.appendChild(e);
    return e;
  }
  const frame = el('rect', {x: X0, y: ys(yMax), width: X1 - X0, height: Y0 - ys(yMax), fill: 'none', stroke: '#000', 'stroke-width': 2});
  
  
  for (let d = 0; d <= xMax; d += 50) {
    const major = d % 200 === 0;
    const L = major ? 9 : 5;
    const tb = el('line', {x1: xs(d), x2: xs(d), y1: Y0, y2: Y0 + L, stroke: '#000', 'stroke-width': 1.6});
    
    
    const tt = el('line', {x1: xs(d), x2: xs(d), y1: ys(yMax), y2: ys(yMax) - L, stroke: '#000', 'stroke-width': 1.6});
    
    
  }
  for (let n = 0; n <= 140; n += 5) {
    const major = n % 20 === 0;
    const L = major ? 14 : 7;
    const tl = el('line', {x1: X0 - L, x2: X0, y1: ys(n), y2: ys(n), stroke: '#000', 'stroke-width': 1.6});
    
    
    const tr = el('line', {x1: X1, x2: X1 + L, y1: ys(n), y2: ys(n), stroke: '#000', 'stroke-width': 1.6});
    
    
  }
  histXTicks.forEach(function (d) {
    const t = el('text', {x: xs(d), y: 451, 'text-anchor': 'middle', 'font-size': 20, fill: '#000'});
    t.textContent = String(d);
    
    
  });
  histYTicks.forEach(function (n) {
    const t = el('text', {x: 244, y: ys(n) + 7, 'text-anchor': 'end', 'font-size': 20, fill: '#000'});
    t.textContent = String(n);
    
    
  });
  const xt = el('text', {x: (X0 + X1) / 2, y: 476, 'text-anchor': 'middle', 'font-size': 22, fill: '#000'});
  xt.textContent = 'Distance (pc)';
  
  
  const yt = el('text', {x: 0, y: 0, 'text-anchor': 'middle', 'font-size': 22, fill: '#000', transform: 'translate(193,264) rotate(-90)'});
  yt.textContent = 'N (stars)';
  
  

  function stepPath(vals) {
    let p = 'M' + xs(histBinStarts[0]) + ' ' + ys(vals[0]);
    for (let i = 0; i < vals.length; i++) {
      if (i > 0) p += ' V' + ys(vals[i]);
      p += ' H' + xs(histBinStarts[i] + histBinWidth);
    }
    return p;
  }
  const shadow = el('path', {d: stepPath(histInitial), fill: 'none', stroke: '#ffb0b0', 'stroke-width': 5, transform: 'translate(1,2)'});
  
  
  const red = el('path', {d: stepPath(histInitial), fill: 'none', stroke: '#ff0000', 'stroke-width': 4.5});
  
  
  const blue = el('path', {d: stepPath(histCorrected), fill: 'none', stroke: '#1010e0', 'stroke-width': 1.6});
  
  
})();
</script>

<script>
const hrXTicks = [7000, 6000, 5000, 4000, 3000];
const hrYTicks = [10, 1, 0.1];
const hrYTickLabels = ['10.0', '1.0', '0.1'];
const hostTeff = [7216,4557,4859,5021,4611,4849,5000,4946,4989,4892,5065,6221,5908,5865,5832,6708,6654,6892,6405,6502,6394,6384,6275,6189,6135,6092,6157,6362,6470,6394,6329,6232,6167,6102,6038,5973,6200,6265,6146,6059,5908,5875,5767,5713,5659,5638,5800,5875,5800,5724,5659,5584,5519,5454,5400,5335,5270,5205,5140,5086,4881,4816,4751,4665,4600,4513,4449,4362,4286,4232,4157,4092,4038,3995,3940,3886,3854,3811,3768,3724,3659,3616,3584,3530,3703,3670,3422,3454,3411,3324,3065,5584,5140,4459,4049,5767,5962,5432,5486,5367,5356,5670,5962,5908,5573,5313,5000,4557,4340,4124,3908,3789,3627,3562,6470,6286,6016,6427,5854];
const hostRadius = [3.19,9.0,6.7,5.9,6.1,4.1,3.73,3.47,2.77,2.71,1.77,2.85,2.45,2.21,1.98,1.55,1.29,1.27,1.11,1.79,2.13,1.85,1.81,2.11,2.11,1.89,1.85,1.94,1.44,1.48,1.34,1.50,1.42,1.34,1.25,1.18,1.18,1.26,1.66,1.57,1.42,1.67,1.69,1.42,1.46,1.22,1.18,1.02,1.00,0.95,0.91,0.89,0.88,0.85,0.88,0.83,0.81,0.77,0.80,0.76,0.76,0.74,0.71,0.70,0.71,0.69,0.63,0.62,0.63,0.60,0.59,0.58,0.58,0.55,0.57,0.60,0.55,0.52,0.51,0.47,0.45,0.46,0.43,0.39,0.38,0.36,0.34,0.29,0.28,0.19,0.14,0.66,0.59,0.52,0.49,0.82,1.12,1.71,1.66,1.10,1.02,1.22,0.95,0.91,0.80,0.74,0.72,0.61,0.58,0.55,0.52,0.48,0.42,0.39,1.69,1.57,1.40,1.26,1.25];
const fpTeff = [5249,5076,5065,5011,5205,5313,5205,5854,5551,5794,7302,7248,6967,6232,6059,5854,5584,5021,4946,4535,3746,3681,3454,3497];
const fpRadius = [10.2,5.0,3.35,3.24,2.96,2.41,2.08,2.37,1.59,1.53,1.76,1.70,1.53,1.06,0.84,1.04,1.0,0.83,0.75,0.65,0.50,0.49,0.42,0.34];

(function () {
  const NS = 'http://www.w3.org/2000/svg';
  const svg = document.getElementById('fig2');
  const X0 = 149, X1 = 427, YTOP = 625, YBOT = 902;
  const tMax = 7500, tMin = 3000;
  function xs(t) { return X0 + (tMax - t) / (tMax - tMin) * (X1 - X0); }
  function ys(r) { return 765 - 137 * Math.log10(r); }
  function el(tag, attrs) {
    const e = document.createElementNS(NS, tag);
    for (const k in attrs) e.setAttribute(k, attrs[k]);
    svg.appendChild(e);
    return e;
  }
  const frame = el('rect', {x: X0, y: YTOP, width: X1 - X0, height: YBOT - YTOP, fill: 'none', stroke: '#000', 'stroke-width': 1.5});
  
  
  for (let t = 3000; t <= 7500; t += 100) {
    const major = t % 1000 === 0;
    const L = major ? 7 : 3.5;
    const a = el('line', {x1: xs(t), x2: xs(t), y1: YBOT, y2: YBOT + L, stroke: '#000', 'stroke-width': 1.2});
    
    
    const b = el('line', {x1: xs(t), x2: xs(t), y1: YTOP, y2: YTOP - L, stroke: '#000', 'stroke-width': 1.2});
    
    
  }
  [0.1, 1].forEach(function (dec) {
    for (let m = 1; m <= 10; m++) {
      const r = dec * m;
      const major = (m === 1 || m === 10);
      const L = major ? 9 : 4.5;
      const a = el('line', {x1: X0 - L, x2: X0, y1: ys(r), y2: ys(r), stroke: '#000', 'stroke-width': 1.2});
      
      
      const b = el('line', {x1: X1, x2: X1 + L, y1: ys(r), y2: ys(r), stroke: '#000', 'stroke-width': 1.2});
      
      
    }
  });
  hrXTicks.forEach(function (t) {
    const tx = el('text', {x: xs(t), y: 930, 'text-anchor': 'middle', 'font-size': 15, fill: '#000'});
    tx.textContent = String(t);
    
    
  });
  hrYTicks.forEach(function (r, i) {
    const tx = el('text', {x: 136, y: ys(r) + 5, 'text-anchor': 'end', 'font-size': 14, fill: '#000'});
    tx.textContent = hrYTickLabels[i];
    
    
  });
  const xt = el('text', {x: 287, y: 947, 'text-anchor': 'middle', 'font-size': 15, fill: '#000'});
  xt.innerHTML = 'T<tspan font-size="9" dy="3">eff</tspan><tspan dy="-3"> (K)</tspan>';
  
  
  const yt = el('text', {x: 0, y: 0, 'text-anchor': 'middle', 'font-size': 14, fill: '#000', transform: 'translate(98,761) rotate(-90)'});
  yt.textContent = 'R (R⊙)';
  
  

  for (let i = 0; i < hostTeff.length; i++) {
    const cx = xs(hostTeff[i]), cy = ys(hostRadius[i]), s = 2.2;
    const p = el('path', {d: 'M' + (cx - s) + ' ' + (cy - s) + 'L' + (cx + s) + ' ' + (cy + s) + 'M' + (cx - s) + ' ' + (cy + s) + 'L' + (cx + s) + ' ' + (cy - s), stroke: '#ff0000', 'stroke-width': 1.1, fill: 'none'});
    
    
  }
  for (let i = 0; i < fpTeff.length; i++) {
    const c = el('circle', {cx: xs(fpTeff[i]), cy: ys(fpRadius[i]), r: 2.4, stroke: '#1515d0', 'stroke-width': 1.1, fill: 'none'});
    
    
  }
})();
</script>
</body></html>
